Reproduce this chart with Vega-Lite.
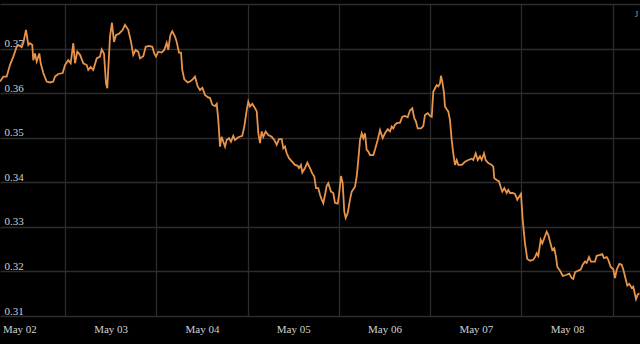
{
"$schema": "https://vega.github.io/schema/vega-lite/v6.json",
"width": 640,
"height": 312,
"autosize": {"type": "none"},
"padding": {"top": 4, "bottom": 28, "left": 0, "right": 0},
"background": "#000000",
"title": {"text": "J", "anchor": "end", "orient": "top", "frame": "group", "fontSize": 8, "font": "Liberation Serif", "fontWeight": "normal", "color": "#aaaaaa", "baseline": "top", "offset": -6, "dx": -2, "dy": 9},
"config": {"view": {"stroke": null}, "axis": {"labelFont": "Liberation Serif", "labelFontSize": 11, "labelColor": "#d0d0d0", "gridColor": "#2c2c2c", "gridWidth": 1.3, "domain": false, "ticks": false, "tickSize": 0, "title": null}},
"data": {"values": [
{"t":"2024-05-02T06:55","v":0.3626},{"t":"2024-05-02T07:47","v":0.3637},{"t":"2024-05-02T08:40","v":0.3637},{"t":"2024-05-02T09:32","v":0.3663},{"t":"2024-05-02T10:25","v":0.3682},{"t":"2024-05-02T11:18","v":0.3704},{"t":"2024-05-02T11:43","v":0.3708},{"t":"2024-05-02T12:37","v":0.3703},{"t":"2024-05-02T13:02","v":0.3712},{"t":"2024-05-02T13:45","v":0.3742},{"t":"2024-05-02T14:21","v":0.3708},{"t":"2024-05-02T14:48","v":0.3712},{"t":"2024-05-02T15:24","v":0.3708},{"t":"2024-05-02T15:40","v":0.3674},{"t":"2024-05-02T16:07","v":0.3689},{"t":"2024-05-02T16:34","v":0.3671},{"t":"2024-05-02T17:15","v":0.3689},{"t":"2024-05-02T17:37","v":0.3667},{"t":"2024-05-02T18:18","v":0.3645},{"t":"2024-05-02T19:11","v":0.3626},{"t":"2024-05-02T20:03","v":0.3624},{"t":"2024-05-02T20:55","v":0.3626},{"t":"2024-05-02T21:22","v":0.3637},{"t":"2024-05-02T22:14","v":0.3643},{"t":"2024-05-02T23:24","v":0.3645},
{"t":"2024-05-03T00:00","v":0.3663},{"t":"2024-05-03T00:52","v":0.3674},{"t":"2024-05-03T01:30","v":0.3667},{"t":"2024-05-03T02:11","v":0.3712},{"t":"2024-05-03T02:38","v":0.3667},{"t":"2024-05-03T03:14","v":0.3693},{"t":"2024-05-03T03:57","v":0.3686},{"t":"2024-05-03T04:49","v":0.3667},{"t":"2024-05-03T05:42","v":0.3663},{"t":"2024-05-03T06:07","v":0.3652},{"t":"2024-05-03T06:45","v":0.3659},{"t":"2024-05-03T07:26","v":0.3652},{"t":"2024-05-03T08:20","v":0.3678},{"t":"2024-05-03T09:12","v":0.3682},{"t":"2024-05-03T09:39","v":0.3698},{"t":"2024-05-03T10:15","v":0.3689},{"t":"2024-05-03T10:47","v":0.3622},{"t":"2024-05-03T11:07","v":0.3611},{"t":"2024-05-03T11:50","v":0.3727},{"t":"2024-05-03T12:21","v":0.3758},{"t":"2024-05-03T12:53","v":0.3715},{"t":"2024-05-03T13:24","v":0.3730},{"t":"2024-05-03T14:16","v":0.3734},{"t":"2024-05-03T15:10","v":0.3742},{"t":"2024-05-03T15:46","v":0.3753},{"t":"2024-05-03T16:38","v":0.3742},{"t":"2024-05-03T17:21","v":0.3715},{"t":"2024-05-03T17:57","v":0.3686},{"t":"2024-05-03T18:35","v":0.3697},{"t":"2024-05-03T19:16","v":0.3693},{"t":"2024-05-03T19:43","v":0.3678},{"t":"2024-05-03T20:35","v":0.3683},{"t":"2024-05-03T21:13","v":0.3704},{"t":"2024-05-03T22:05","v":0.3706},{"t":"2024-05-03T22:57","v":0.3704},{"t":"2024-05-03T23:28","v":0.3689},{"t":"2024-05-03T23:55","v":0.3682},
{"t":"2024-05-04T00:32","v":0.3693},{"t":"2024-05-04T01:25","v":0.3691},{"t":"2024-05-04T02:06","v":0.3697},{"t":"2024-05-04T02:44","v":0.3713},{"t":"2024-05-04T03:09","v":0.3697},{"t":"2024-05-04T03:41","v":0.3730},{"t":"2024-05-04T04:12","v":0.3739},{"t":"2024-05-04T04:55","v":0.3727},{"t":"2024-05-04T05:22","v":0.3715},{"t":"2024-05-04T05:58","v":0.3691},{"t":"2024-05-04T06:30","v":0.3691},{"t":"2024-05-04T06:50","v":0.3652},{"t":"2024-05-04T07:22","v":0.3631},{"t":"2024-05-04T08:15","v":0.3624},{"t":"2024-05-04T08:52","v":0.3626},{"t":"2024-05-04T09:34","v":0.3631},{"t":"2024-05-04T10:10","v":0.3637},{"t":"2024-05-04T10:53","v":0.3615},{"t":"2024-05-04T11:29","v":0.3607},{"t":"2024-05-04T12:06","v":0.3612},{"t":"2024-05-04T12:48","v":0.3596},{"t":"2024-05-04T13:31","v":0.3591},{"t":"2024-05-04T14:07","v":0.3589},{"t":"2024-05-04T14:43","v":0.3574},{"t":"2024-05-04T15:26","v":0.3571},{"t":"2024-05-04T15:53","v":0.3576},{"t":"2024-05-04T16:18","v":0.3540},{"t":"2024-05-04T16:45","v":0.3480},{"t":"2024-05-04T17:11","v":0.3502},{"t":"2024-05-04T17:37","v":0.3491},{"t":"2024-05-04T18:04","v":0.3480},{"t":"2024-05-04T18:30","v":0.3495},{"t":"2024-05-04T19:07","v":0.3499},{"t":"2024-05-04T19:38","v":0.3491},{"t":"2024-05-04T20:14","v":0.3504},{"t":"2024-05-04T20:41","v":0.3495},{"t":"2024-05-04T21:33","v":0.3501},{"t":"2024-05-04T22:36","v":0.3504},{"t":"2024-05-04T23:08","v":0.3525},{"t":"2024-05-04T23:46","v":0.3562},
{"t":"2024-05-05T00:11","v":0.3581},{"t":"2024-05-05T00:38","v":0.3570},{"t":"2024-05-05T01:14","v":0.3576},{"t":"2024-05-05T01:57","v":0.3566},{"t":"2024-05-05T02:24","v":0.3559},{"t":"2024-05-05T02:49","v":0.3510},{"t":"2024-05-05T03:16","v":0.3488},{"t":"2024-05-05T03:42","v":0.3514},{"t":"2024-05-05T04:08","v":0.3502},{"t":"2024-05-05T04:45","v":0.3514},{"t":"2024-05-05T05:26","v":0.3506},{"t":"2024-05-05T06:20","v":0.3502},{"t":"2024-05-05T07:01","v":0.3495},{"t":"2024-05-05T07:39","v":0.3484},{"t":"2024-05-05T08:15","v":0.3497},{"t":"2024-05-05T08:58","v":0.3497},{"t":"2024-05-05T09:23","v":0.3476},{"t":"2024-05-05T09:50","v":0.3480},{"t":"2024-05-05T10:17","v":0.3465},{"t":"2024-05-05T10:53","v":0.3454},{"t":"2024-05-05T11:45","v":0.3446},{"t":"2024-05-05T12:28","v":0.3439},{"t":"2024-05-05T13:10","v":0.3437},{"t":"2024-05-05T13:31","v":0.3432},{"t":"2024-05-05T14:02","v":0.3439},{"t":"2024-05-05T14:23","v":0.3422},{"t":"2024-05-05T15:05","v":0.3432},{"t":"2024-05-05T15:42","v":0.3444},{"t":"2024-05-05T16:24","v":0.3432},{"t":"2024-05-05T17:00","v":0.3420},{"t":"2024-05-05T17:32","v":0.3413},{"t":"2024-05-05T17:59","v":0.3387},{"t":"2024-05-05T18:35","v":0.3387},{"t":"2024-05-05T19:02","v":0.3372},{"t":"2024-05-05T19:29","v":0.3361},{"t":"2024-05-05T19:54","v":0.3353},{"t":"2024-05-05T20:21","v":0.3372},{"t":"2024-05-05T20:48","v":0.3392},{"t":"2024-05-05T21:13","v":0.3398},{"t":"2024-05-05T21:55","v":0.3379},{"t":"2024-05-05T22:32","v":0.3376},{"t":"2024-05-05T22:58","v":0.3354},{"t":"2024-05-05T23:41","v":0.3352},
{"t":"2024-05-06T00:02","v":0.3372},{"t":"2024-05-06T00:33","v":0.3414},{"t":"2024-05-06T01:00","v":0.3398},{"t":"2024-05-06T01:25","v":0.3334},{"t":"2024-05-06T01:47","v":0.3320},{"t":"2024-05-06T02:19","v":0.3331},{"t":"2024-05-06T02:55","v":0.3361},{"t":"2024-05-06T03:22","v":0.3379},{"t":"2024-05-06T04:14","v":0.3390},{"t":"2024-05-06T04:41","v":0.3413},{"t":"2024-05-06T05:06","v":0.3450},{"t":"2024-05-06T05:33","v":0.3495},{"t":"2024-05-06T06:00","v":0.3510},{"t":"2024-05-06T06:25","v":0.3499},{"t":"2024-05-06T06:52","v":0.3510},{"t":"2024-05-06T07:18","v":0.3473},{"t":"2024-05-06T07:44","v":0.3469},{"t":"2024-05-06T08:11","v":0.3461},{"t":"2024-05-06T09:03","v":0.3461},{"t":"2024-05-06T09:29","v":0.3473},{"t":"2024-05-06T10:12","v":0.3495},{"t":"2024-05-06T10:48","v":0.3517},{"t":"2024-05-06T11:31","v":0.3499},{"t":"2024-05-06T12:07","v":0.3510},{"t":"2024-05-06T12:50","v":0.3519},{"t":"2024-05-06T13:26","v":0.3514},{"t":"2024-05-06T13:53","v":0.3525},{"t":"2024-05-06T14:18","v":0.3521},{"t":"2024-05-06T14:45","v":0.3529},{"t":"2024-05-06T15:12","v":0.3533},{"t":"2024-05-06T16:04","v":0.3534},{"t":"2024-05-06T16:40","v":0.3547},{"t":"2024-05-06T17:23","v":0.3549},{"t":"2024-05-06T18:05","v":0.3546},{"t":"2024-05-06T18:41","v":0.3561},{"t":"2024-05-06T19:18","v":0.3566},{"t":"2024-05-06T19:49","v":0.3544},{"t":"2024-05-06T20:16","v":0.3536},{"t":"2024-05-06T20:43","v":0.3521},{"t":"2024-05-06T21:35","v":0.3521},{"t":"2024-05-06T22:11","v":0.3526},{"t":"2024-05-06T22:38","v":0.3551},{"t":"2024-05-06T23:21","v":0.3555},{"t":"2024-05-06T23:57","v":0.3549},
{"t":"2024-05-07T00:24","v":0.3547},{"t":"2024-05-07T00:49","v":0.3603},{"t":"2024-05-07T01:16","v":0.3611},{"t":"2024-05-07T01:43","v":0.3618},{"t":"2024-05-07T02:08","v":0.3615},{"t":"2024-05-07T02:35","v":0.3622},{"t":"2024-05-07T02:50","v":0.3639},{"t":"2024-05-07T03:11","v":0.3626},{"t":"2024-05-07T03:38","v":0.3600},{"t":"2024-05-07T03:53","v":0.3570},{"t":"2024-05-07T04:20","v":0.3564},{"t":"2024-05-07T04:45","v":0.3559},{"t":"2024-05-07T05:12","v":0.3540},{"t":"2024-05-07T05:39","v":0.3495},{"t":"2024-05-07T06:04","v":0.3465},{"t":"2024-05-07T06:31","v":0.3439},{"t":"2024-05-07T06:58","v":0.3450},{"t":"2024-05-07T07:23","v":0.3439},{"t":"2024-05-07T08:17","v":0.3439},{"t":"2024-05-07T09:09","v":0.3446},{"t":"2024-05-07T10:01","v":0.3450},{"t":"2024-05-07T10:55","v":0.3453},{"t":"2024-05-07T11:20","v":0.3450},{"t":"2024-05-07T11:58","v":0.3465},{"t":"2024-05-07T12:29","v":0.3450},{"t":"2024-05-07T13:05","v":0.3458},{"t":"2024-05-07T13:32","v":0.3450},{"t":"2024-05-07T14:09","v":0.3465},{"t":"2024-05-07T14:35","v":0.3450},{"t":"2024-05-07T15:16","v":0.3443},{"t":"2024-05-07T16:10","v":0.3439},{"t":"2024-05-07T16:35","v":0.3435},{"t":"2024-05-07T16:51","v":0.3409},{"t":"2024-05-07T17:29","v":0.3405},{"t":"2024-05-07T18:05","v":0.3402},{"t":"2024-05-07T18:37","v":0.3387},{"t":"2024-05-07T18:57","v":0.3379},{"t":"2024-05-07T19:29","v":0.3387},{"t":"2024-05-07T20:07","v":0.3376},{"t":"2024-05-07T20:32","v":0.3383},{"t":"2024-05-07T20:59","v":0.3376},{"t":"2024-05-07T21:41","v":0.3376},{"t":"2024-05-07T22:17","v":0.3374},{"t":"2024-05-07T22:54","v":0.3361},{"t":"2024-05-07T23:25","v":0.3368},{"t":"2024-05-07T23:52","v":0.3374},
{"t":"2024-05-08T00:19","v":0.3316},{"t":"2024-05-08T00:55","v":0.3263},{"t":"2024-05-08T01:31","v":0.3228},{"t":"2024-05-08T02:14","v":0.3224},{"t":"2024-05-08T03:06","v":0.3226},{"t":"2024-05-08T03:33","v":0.3232},{"t":"2024-05-08T04:00","v":0.3241},{"t":"2024-05-08T04:25","v":0.3235},{"t":"2024-05-08T05:03","v":0.3271},{"t":"2024-05-08T05:28","v":0.3263},{"t":"2024-05-08T06:00","v":0.3275},{"t":"2024-05-08T06:37","v":0.3289},{"t":"2024-05-08T07:03","v":0.3282},{"t":"2024-05-08T07:29","v":0.3267},{"t":"2024-05-08T08:06","v":0.3248},{"t":"2024-05-08T08:37","v":0.3252},{"t":"2024-05-08T09:04","v":0.3233},{"t":"2024-05-08T09:25","v":0.3210},{"t":"2024-05-08T10:07","v":0.3202},{"t":"2024-05-08T10:50","v":0.3190},{"t":"2024-05-08T11:42","v":0.3192},{"t":"2024-05-08T12:34","v":0.3195},{"t":"2024-05-08T13:12","v":0.3185},{"t":"2024-05-08T13:37","v":0.3183},{"t":"2024-05-08T14:04","v":0.3198},{"t":"2024-05-08T14:56","v":0.3202},{"t":"2024-05-08T15:34","v":0.3204},{"t":"2024-05-08T16:05","v":0.3215},{"t":"2024-05-08T16:42","v":0.3222},{"t":"2024-05-08T17:08","v":0.3219},{"t":"2024-05-08T17:45","v":0.3232},{"t":"2024-05-08T18:16","v":0.3222},{"t":"2024-05-08T19:19","v":0.3222},{"t":"2024-05-08T19:46","v":0.3235},{"t":"2024-05-08T20:38","v":0.3237},{"t":"2024-05-08T21:14","v":0.3239},{"t":"2024-05-08T21:41","v":0.3230},{"t":"2024-05-08T22:24","v":0.3232},{"t":"2024-05-08T22:49","v":0.3226},{"t":"2024-05-08T23:27","v":0.3210},
{"t":"2024-05-09T00:08","v":0.3205},{"t":"2024-05-09T00:35","v":0.3185},{"t":"2024-05-09T01:02","v":0.3204},{"t":"2024-05-09T01:43","v":0.3217},{"t":"2024-05-09T02:20","v":0.3215},{"t":"2024-05-09T02:46","v":0.3204},{"t":"2024-05-09T03:12","v":0.3189},{"t":"2024-05-09T03:49","v":0.3168},{"t":"2024-05-09T04:20","v":0.3172},{"t":"2024-05-09T04:58","v":0.3163},{"t":"2024-05-09T05:23","v":0.3166},{"t":"2024-05-09T06:06","v":0.3138},{"t":"2024-05-09T06:33","v":0.3148},{"t":"2024-05-09T06:58","v":0.3151}
]},
"encoding": {
  "y": {"field": "v", "type": "quantitative", "scale": {"domain": [0.31, 0.38], "zero": false, "nice": false},
        "axis": {"values": [0.31, 0.32, 0.33, 0.34, 0.35, 0.36, 0.37, 0.38], "grid": true, "labelAlign": "left", "labelBaseline": "bottom", "labelPadding": -4, "labelExpr": "datum.value > 0.375 ? '' : format(datum.value, '.2f')"}}
},
"layer": [
  {"mark": {"type": "line", "color": "#e8944a", "strokeWidth": 1.8, "clip": true},
   "encoding": {"x": {"field": "t", "type": "temporal",
      "scale": {"domain": [{"year": 2024, "month": 5, "date": 2, "hours": 6, "minutes": 55}, {"year": 2024, "month": 5, "date": 9, "hours": 7, "minutes": 9}]},
      "axis": {"orient": "bottom", "grid": true, "labels": false, "tickCount": {"interval": "day", "step": 1}}}}},
  {"mark": {"type": "line", "opacity": 0},
   "encoding": {"x": {"field": "t", "type": "temporal",
      "scale": {"domain": [{"year": 2024, "month": 5, "date": 2, "hours": 6, "minutes": 55}, {"year": 2024, "month": 5, "date": 9, "hours": 7, "minutes": 9}]},
      "axis": {"orient": "bottom", "grid": false, "format": "%b %d", "labelPadding": 7, "labelBaseline": "top", "labelAlign": "center",
        "values": [{"year": 2024, "month": 5, "date": 2, "hours": 12}, {"year": 2024, "month": 5, "date": 3, "hours": 12}, {"year": 2024, "month": 5, "date": 4, "hours": 12}, {"year": 2024, "month": 5, "date": 5, "hours": 12}, {"year": 2024, "month": 5, "date": 6, "hours": 12}, {"year": 2024, "month": 5, "date": 7, "hours": 12}, {"year": 2024, "month": 5, "date": 8, "hours": 12}]}}}}
],
"resolve": {"axis": {"x": "independent"}}
}
